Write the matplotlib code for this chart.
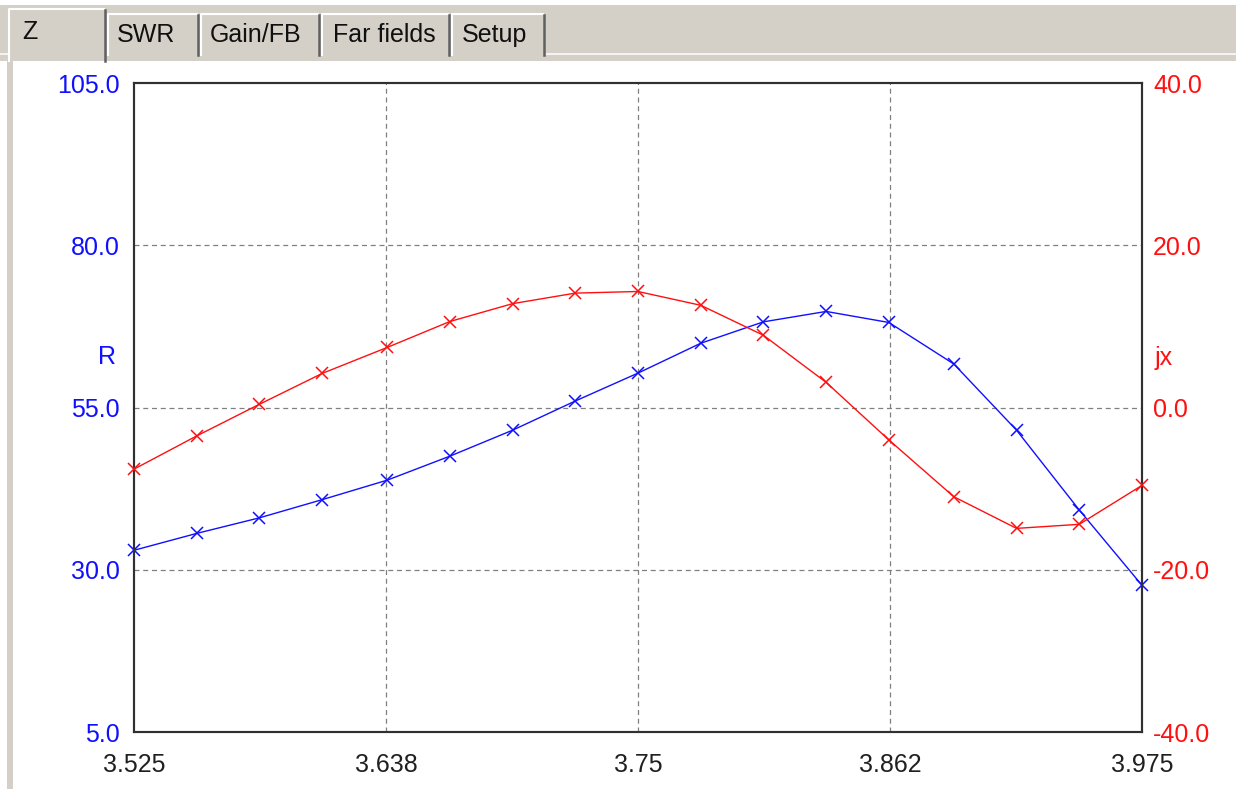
import matplotlib
matplotlib.use("Agg")
import matplotlib.pyplot as plt
from matplotlib.patches import Rectangle

plt.rcParams['font.family'] = ['Liberation Sans', 'DejaVu Sans']

# frequency sweep (MHz)
freq = [3.525, 3.553, 3.581, 3.609, 3.638, 3.666, 3.694, 3.722, 3.75,
        3.778, 3.806, 3.834, 3.862, 3.891, 3.919, 3.947, 3.975]
# resistance R (ohm), left axis
r_vals = [33.0, 35.6, 38.0, 40.8, 43.8, 47.5, 51.5, 56.0, 60.3,
          64.9, 68.2, 69.8, 68.1, 61.7, 51.5, 39.2, 27.6]
# reactance jx (ohm), right axis
jx_vals = [-7.6, -3.5, 0.4, 4.2, 7.4, 10.6, 12.8, 14.1, 14.3,
           12.6, 8.9, 3.1, -4.0, -11.0, -14.9, -14.4, -9.6]

x_ticks = [3.525, 3.6375, 3.75, 3.8625, 3.975]
x_labels = ['3.525', '3.638', '3.75', '3.862', '3.975']
r_ticks = [5, 30, 55, 80, 105]
jx_ticks = [-40, -20, 0, 20, 40]
tabs = ['Z', 'SWR', 'Gain/FB', 'Far fields', 'Setup']

W, H = 1236, 789
BLUE = '#1010ff'
RED = '#ff1010'
GRAY = '#d4d0c8'
FS = 18

fig = plt.figure(figsize=(W / 100, H / 100), dpi=100, facecolor='white')

# background "window" drawn in pixel coordinates
bg = fig.add_axes([0, 0, 1, 1], zorder=0)
bg.set_xlim(0, W)
bg.set_ylim(H, 0)
bg.axis('off')
bg.add_patch(Rectangle((0, 5), W, 48, color=GRAY, lw=0))
bg.add_patch(Rectangle((0, 53), W, 2, color='#f4f3ef', lw=0))
bg.add_patch(Rectangle((0, 55), W, 6, color=GRAY, lw=0))
bg.add_patch(Rectangle((7, 61), 6, H - 61, color=GRAY, lw=0))

# tab strip
tab_edges = [8, 107, 200, 321, 451, 546]
tab_text_x = [22, 117, 210, 333, 462]
for i, name in enumerate(tabs):
    x0, x1 = tab_edges[i], tab_edges[i + 1]
    top = 8 if i == 0 else 13
    bottom = 61 if i == 0 else 55
    bg.add_patch(Rectangle((x0, top), x1 - x0, bottom - top, facecolor=GRAY, lw=0))
    bg.plot([x0 + 1, x0 + 1, x1 - 3], [bottom, top + 1, top + 1], color='white', lw=1.5)
    bg.plot([x1 - 2, x1 - 2], [top + 2, bottom], color='#606060', lw=1.8)
    bg.text(tab_text_x[i], 35 if i else 32, name, fontsize=FS, color='#101010',
            ha='left', va='center')

# main plot area
ax = fig.add_axes([134 / W, (H - 732) / H, (1142 - 134) / W, (732 - 83) / H], zorder=2)
ax2 = ax.twinx()
ax.set_facecolor('white')

grid_kw = dict(color='#808080', lw=0.9, ls=(0, (4, 3)), zorder=1)
for xv in x_ticks[1:-1]:
    ax.axvline(xv, **grid_kw)
for yv in r_ticks[1:-1]:
    ax.axhline(yv, **grid_kw)

ax2.plot(freq, jx_vals, color=RED, lw=1.0, marker='x', ms=9, mew=1.1, zorder=3,
         clip_on=False)
ax.plot(freq, r_vals, color=BLUE, lw=1.0, marker='x', ms=9, mew=1.1, zorder=3,
        clip_on=False)

ax.set_xlim(3.525, 3.975)
ax.set_ylim(5, 105)
ax2.set_ylim(-40, 40)

ax.set_xticks(x_ticks)
ax.set_xticklabels(x_labels)
ax.set_yticks(r_ticks)
ax.set_yticklabels([f'{v:.1f}' for v in r_ticks])
ax2.set_yticks(jx_ticks)
ax2.set_yticklabels([f'{v:.1f}' for v in jx_ticks])

ax.tick_params(axis='x', length=0, pad=15, labelsize=FS, labelcolor='#202020')
ax.tick_params(axis='y', length=0, pad=10, labelsize=FS, labelcolor=BLUE)
ax2.tick_params(axis='y', length=0, pad=8, labelsize=FS, labelcolor=RED)

for a in (ax, ax2):
    for sp in a.spines.values():
        sp.set_color('#303030')
        sp.set_linewidth(1.5)

# annotations
bg.text(140, 114, 'Fres: 4.242 MHz', fontsize=FS, color=BLUE, ha='left', va='center')
bg.text(107, 357, 'R', fontsize=FS, color=BLUE, ha='center', va='center')
bg.text(1155, 358, 'jx', fontsize=FS, color=RED, ha='left', va='center')

fig.savefig('out.png', dpi=100, facecolor='white')
